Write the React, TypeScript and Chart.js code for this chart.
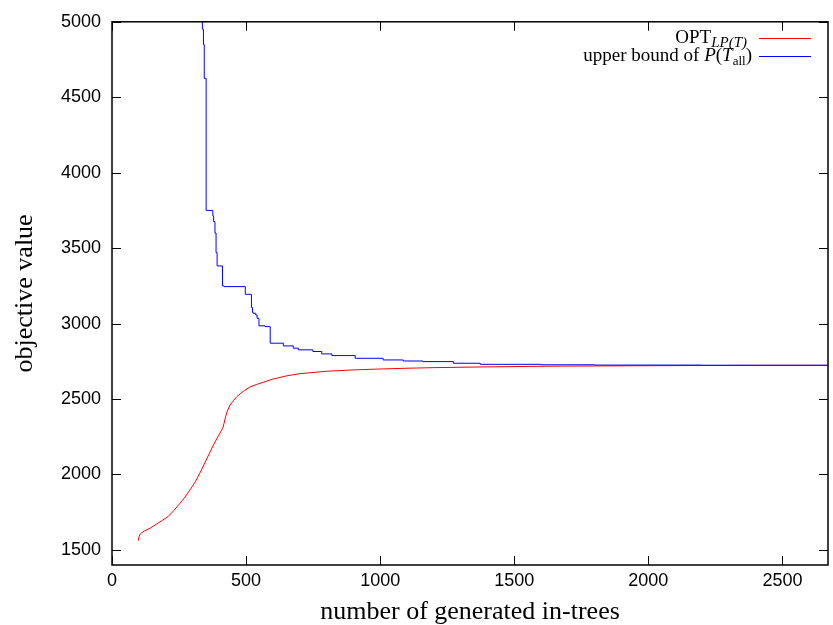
import { useEffect, useRef } from 'react';
import { Chart, registerables } from 'chart.js';

Chart.register(...registerables);

const xTicks = [0, 500, 1000, 1500, 2000, 2500];
const yTicks = [1500, 2000, 2500, 3000, 3500, 4000, 4500, 5000];
const xMin = 0;
const xMax = 2670;
const yMin = 1400;
const yMax = 5000;

const xTitle = 'number of generated in-trees';
const yTitle = 'objective value';

// OPT_LP(T)
const redX = [98, 101, 106, 120, 142, 165, 185, 210, 230, 254, 272, 291, 310, 328, 347, 362, 378, 395, 413, 418, 424, 430, 440, 453, 465, 478, 495, 515, 540, 565, 600, 650, 700, 800, 900, 1000, 1100, 1200, 1400, 1600, 1800, 2000, 2200, 2400, 2670];
const redY = [1561, 1590, 1607, 1625, 1644, 1670, 1693, 1722, 1760, 1810, 1850, 1898, 1950, 2010, 2080, 2135, 2195, 2250, 2307, 2340, 2385, 2420, 2460, 2490, 2515, 2535, 2558, 2580, 2597, 2612, 2632, 2653, 2668, 2684, 2693, 2699, 2704, 2708, 2713, 2717, 2719, 2721, 2722, 2723, 2723];

// upper bound of P(T_all) (step function)
const blueX = [320, 337, 341, 344, 351, 376, 379, 384, 388, 392, 412, 418, 497, 520, 524, 527, 536, 541, 548, 571, 590, 639, 676, 695, 749, 782, 820, 907, 1011, 1086, 1159, 1273, 1373, 1600, 1800, 2200, 2670];
const blueY = [7000, 4950, 4850, 4625, 3750, 3713, 3675, 3600, 3470, 3382, 3250, 3245, 3194, 3106, 3073, 3068, 3057, 3035, 2985, 2980, 2870, 2852, 2837, 2826, 2815, 2799, 2788, 2770, 2759, 2752, 2748, 2737, 2730, 2727, 2725, 2724, 2723];

const redLabel = 'OPT_LP(T)';
const blueLabel = 'upper bound of P(T_all)';
const redColor = '#ff0000';
const blueColor = '#0000ff';

type Seg = { t: string; italic?: boolean; sub?: boolean };
const redLegend: Seg[] = [{ t: 'OPT' }, { t: 'LP(T)', italic: true, sub: true }];
const blueLegend: Seg[] = [
  { t: 'upper bound of ' },
  { t: 'P', italic: true },
  { t: '(' },
  { t: 'T', italic: true },
  { t: 'all', sub: true },
  { t: ')' },
];

const SERIF = '"Liberation Serif", "Times New Roman", serif';
const SANS = '"Liberation Sans", Arial, sans-serif';

function drawSegs(ctx: CanvasRenderingContext2D, segs: Seg[], right: number, baseline: number, size: number, subScale: number) {
  const fontFor = (s: Seg) => `${s.italic ? 'italic ' : ''}${s.sub ? Math.round(size * subScale) : size}px ${SERIF}`;
  let total = 0;
  for (const s of segs) {
    ctx.font = fontFor(s);
    total += ctx.measureText(s.t).width;
  }
  let x = right - total;
  ctx.textAlign = 'left';
  ctx.textBaseline = 'alphabetic';
  for (const s of segs) {
    ctx.font = fontFor(s);
    ctx.fillText(s.t, x, baseline + (s.sub ? size * 0.22 : 0));
    x += ctx.measureText(s.t).width;
  }
}

const framePlugin = {
  id: 'frame',
  afterDraw(chart: any) {
    const { ctx, chartArea, scales } = chart;
    const { left, right, top, bottom } = chartArea;
    ctx.save();
    ctx.strokeStyle = '#000';
    ctx.lineWidth = 1;
    ctx.beginPath();
    const tl = 9;
    for (const v of xTicks) {
      const px = Math.round(scales.x.getPixelForValue(v)) + 0.5;
      ctx.moveTo(px, bottom);
      ctx.lineTo(px, bottom - tl);
      ctx.moveTo(px, top);
      ctx.lineTo(px, top + tl);
    }
    for (const v of yTicks) {
      const py = Math.round(scales.y.getPixelForValue(v)) + 0.5;
      ctx.moveTo(left, py);
      ctx.lineTo(left + tl, py);
      ctx.moveTo(right, py);
      ctx.lineTo(right - tl, py);
    }
    ctx.stroke();
    ctx.lineWidth = 1.5;
    ctx.strokeRect(left, top, right - left, bottom - top);

    // legend
    const fs = 19;
    ctx.fillStyle = '#000';
    drawSegs(ctx, redLegend, 747, 43, fs, 0.8);
    drawSegs(ctx, blueLegend, 752, 61, fs, 0.7);
    ctx.lineWidth = 1;
    ctx.strokeStyle = redColor;
    ctx.beginPath();
    ctx.moveTo(759, 38.5);
    ctx.lineTo(811, 38.5);
    ctx.stroke();
    ctx.strokeStyle = blueColor;
    ctx.beginPath();
    ctx.moveTo(759, 56.5);
    ctx.lineTo(811, 56.5);
    ctx.stroke();
    ctx.restore();
  },
};

export default function App() {
  const ref = useRef<HTMLCanvasElement>(null);
  useEffect(() => {
    document.body.style.margin = '0';
    const canvas = ref.current!;
    const chart = new Chart(canvas, {
      type: 'line',
      data: {
        datasets: [
          {
            label: redLabel,
            data: redX.map((x, i) => ({ x, y: redY[i] })),
            borderColor: redColor,
            borderWidth: 1,
            pointRadius: 0,
            tension: 0,
            order: 1,
          },
          {
            label: blueLabel,
            data: blueX.map((x, i) => ({ x, y: blueY[i] })),
            borderColor: blueColor,
            borderWidth: 1,
            pointRadius: 0,
            stepped: 'before',
            order: 0,
          },
        ],
      },
      options: {
        animation: false,
        responsive: false,
        maintainAspectRatio: false,
        layout: { padding: { top: 20, right: 5, left: 0, bottom: 0 } },
        plugins: { legend: { display: false }, tooltip: { enabled: false } },
        scales: {
          x: {
            type: 'linear',
            min: xMin,
            max: xMax,
            grid: { display: false, drawTicks: false },
            border: { display: false },
            afterBuildTicks: (s: any) => {
              s.ticks = xTicks.map((value) => ({ value }));
            },
            afterFit: (s: any) => {
              s.height = 60;
            },
            ticks: {
              padding: 5,
              maxRotation: 0,
              autoSkip: false,
              color: '#000',
              font: { family: SANS, size: 18 },
              callback: (v: any) => String(v),
            },
            title: {
              display: true,
              text: xTitle,
              color: '#000',
              font: { family: SERIF, size: 26 },
              padding: { top: 0, bottom: -3 },
            },
          },
          y: {
            type: 'linear',
            min: yMin,
            max: yMax,
            grid: { display: false, drawTicks: false },
            border: { display: false },
            afterBuildTicks: (s: any) => {
              s.ticks = yTicks.map((value) => ({ value }));
            },
            afterFit: (s: any) => {
              s.width = 112;
            },
            ticks: {
              padding: 11,
              autoSkip: false,
              color: '#000',
              font: { family: SANS, size: 18 },
              callback: (v: any) => String(v),
            },
            title: {
              display: true,
              text: yTitle,
              color: '#000',
              font: { family: SERIF, size: 26 },
              padding: { top: 10, bottom: 0 },
            },
          },
        },
      },
      plugins: [framePlugin],
    });
    return () => chart.destroy();
  }, []);
  return (
    <div style={{ width: 833, height: 625, background: '#fff' }}>
      <canvas ref={ref} width={833} height={625} style={{ display: 'block' }} />
    </div>
  );
}
